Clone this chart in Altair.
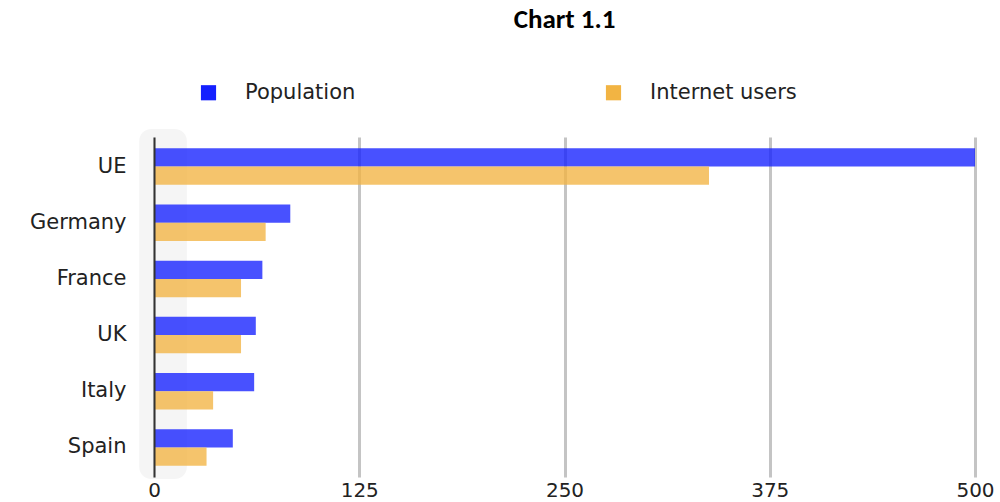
import altair as alt
import pandas as pd

categories = ["UE", "Germany", "France", "UK", "Italy", "Spain"]
population = [500, 83, 66, 62, 61, 48]
internet_users = [338, 68, 53, 53, 36, 32]
series_names = ["Population", "Internet users"]
x_ticks = [0, 125, 250, 375, 500]

rows = []
for c, p, i in zip(categories, population, internet_users):
    rows.append({"country": c, "series": series_names[0], "value": p})
    rows.append({"country": c, "series": series_names[1], "value": i})
df = pd.DataFrame(rows)

FONT = "DejaVu Sans"

shade = alt.Chart(pd.DataFrame({"a": [-9], "b": [20]})).mark_rect(
    color="#f3f3f3", opacity=0.8, cornerRadius=12
).encode(
    x=alt.X("a:Q"), x2="b:Q",
    y=alt.value(-8), y2=alt.value(342),
)

bars = alt.Chart(df).mark_bar(opacity=0.78).encode(
    y=alt.Y("country:N", sort=categories,
            scale=alt.Scale(paddingInner=0.35, paddingOuter=0.2),
            axis=alt.Axis(title=None, ticks=False, domain=True, domainColor="#333333",
                          domainWidth=2, labelFontSize=21, labelColor="#222222",
                          labelFont=FONT, labelPadding=28, grid=False, zindex=1)),
    yOffset=alt.YOffset("series:N", sort=series_names),
    x=alt.X("value:Q", scale=alt.Scale(domain=[0, 500], nice=False),
            axis=alt.Axis(title=None, values=x_ticks, ticks=False, domain=False,
                          grid=True, gridColor="#c4c4c4", gridWidth=3,
                          labelFontSize=20, labelColor="#222222", labelFont=FONT,
                          labelPadding=3, labelFlush=False)),
    color=alt.Color("series:N", sort=series_names,
                    scale=alt.Scale(domain=series_names, range=["#1420ff", "#f2b443"]),
                    legend=alt.Legend(title=None, orient="none", legendX=44, legendY=-55,
                                      direction="horizontal", symbolType="square",
                                      symbolSize=230, symbolOpacity=1, symbolStrokeWidth=0,
                                      labelFontSize=21, labelFont=FONT, labelColor="#222222",
                                      labelOffset=26, columnPadding=247)),
)

chart = alt.layer(shade, bars).properties(
    width=821,
    height=340,
    background="white",
    title=alt.TitleParams("Chart 1.1", anchor="middle", fontSize=27, fontWeight="bold",
                          font="Carlito, Liberation Sans Narrow, Open Sans", color="#000000",
                          offset=48),
    autosize=alt.AutoSizeParams(type="none"),
    padding={"left": 154, "top": 137, "right": 25, "bottom": 25},
).configure_view(strokeWidth=0, stroke=None)

chart.save("out.html", embed_options={"renderer": "svg", "actions": False})
